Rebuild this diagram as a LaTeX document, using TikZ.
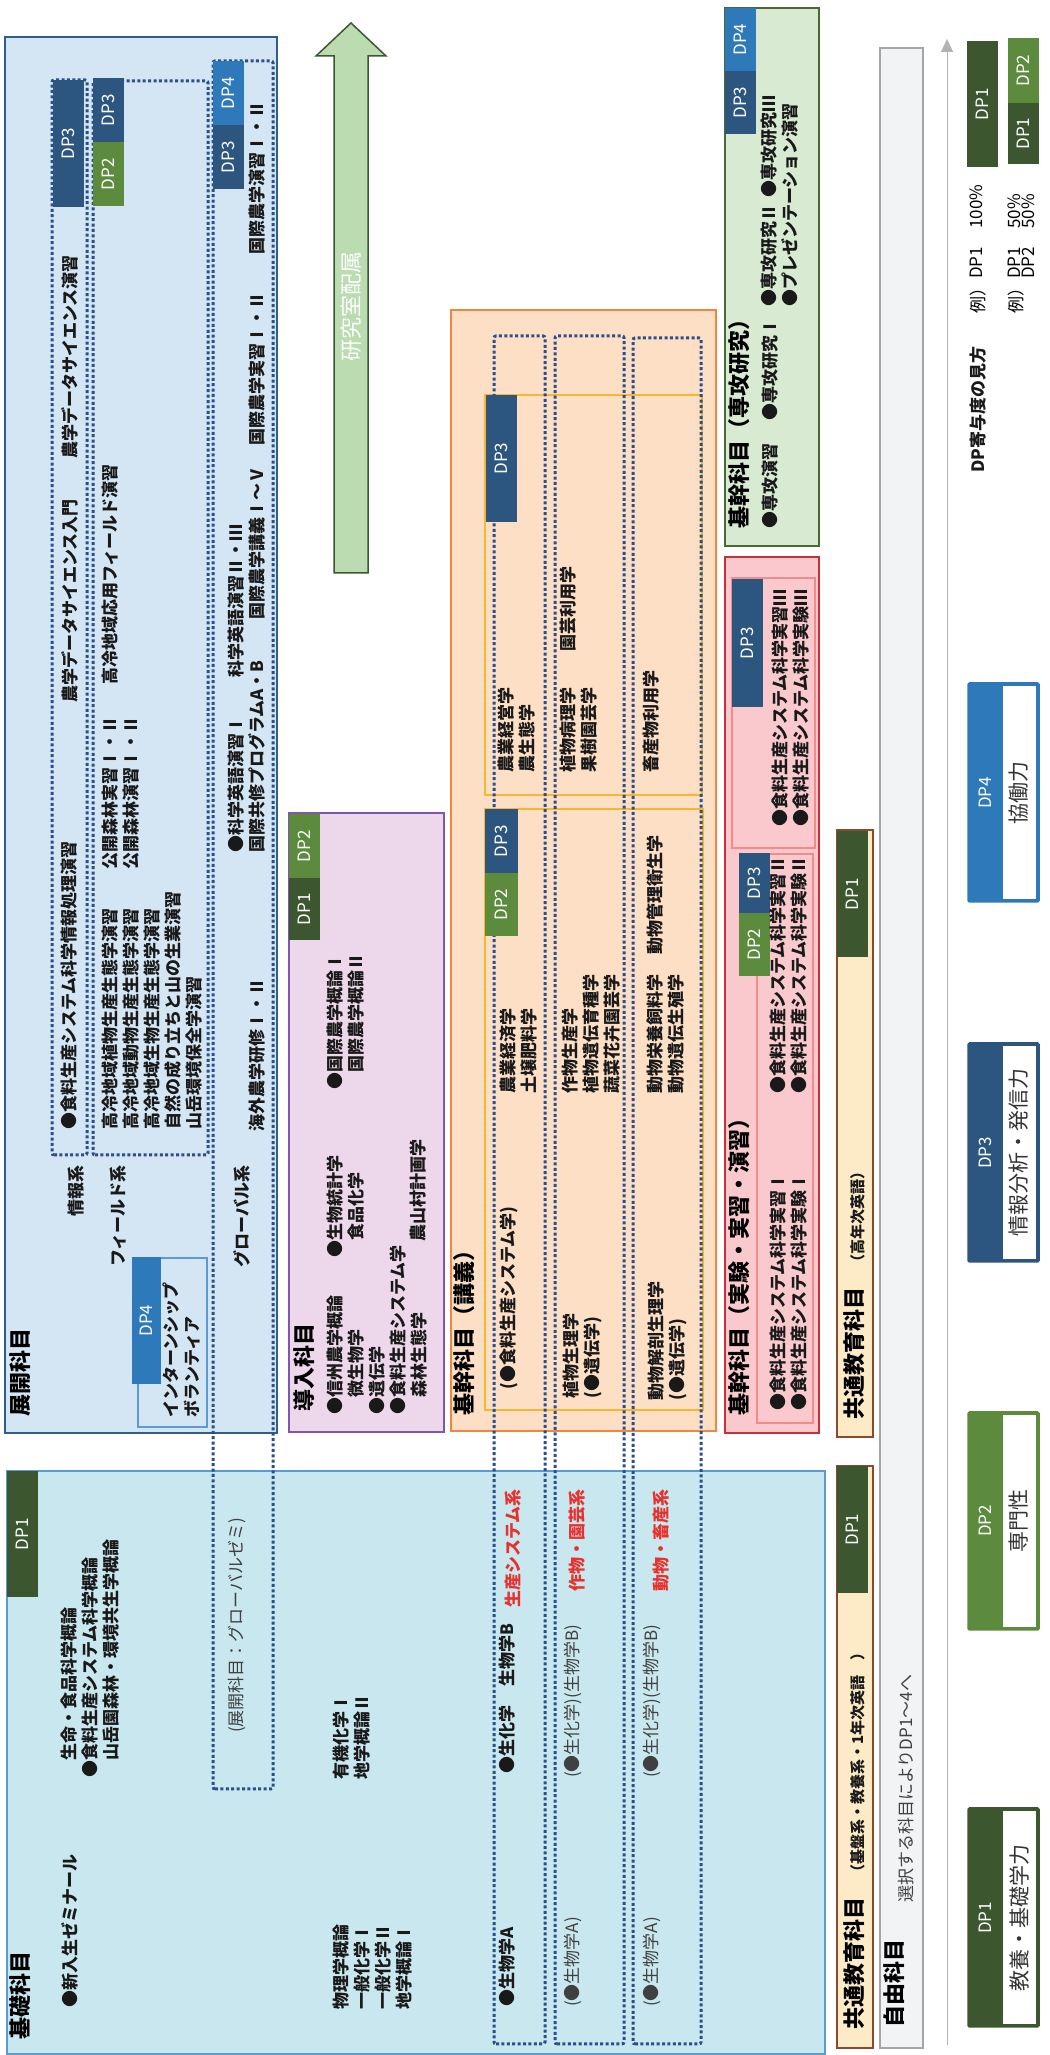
\documentclass[tikz,border=0pt]{standalone}
\usepackage{fontspec}
\setmainfont{Noto Sans CJK JP}
\usetikzlibrary{positioning,arrows.meta}

\definecolor{dpone}{HTML}{3C5730}
\definecolor{dptwo}{HTML}{5C8B3E}
\definecolor{dpthree}{HTML}{2C5580}
\definecolor{dpfour}{HTML}{2E79BA}
\definecolor{dotblue}{HTML}{2B4F8E}
\definecolor{tenkai}{HTML}{D4E6F4}
\definecolor{tenkaiB}{HTML}{2F5D8C}
\definecolor{kiso}{HTML}{C8E7EF}
\definecolor{kisoB}{HTML}{5B9BD5}
\definecolor{dounyu}{HTML}{EDD7EB}
\definecolor{dounyuB}{HTML}{7E57A8}
\definecolor{kogi}{HTML}{FCDFC5}
\definecolor{kogiB}{HTML}{F0863F}
\definecolor{gold}{HTML}{F6B830}
\definecolor{jikken}{HTML}{F9C9CD}
\definecolor{jikkenB}{HTML}{C8303A}
\definecolor{jikkenI}{HTML}{F28B8B}
\definecolor{senko}{HTML}{D9EAD3}
\definecolor{senkoB}{HTML}{4A6A35}
\definecolor{kyotsu}{HTML}{FDEBC8}
\definecolor{kyotsuB}{HTML}{8B4A2B}
\definecolor{jiyu}{HTML}{F2F3F5}
\definecolor{jiyuB}{HTML}{A6A6A6}
\definecolor{arrowG}{HTML}{BBDCB1}
\definecolor{redtxt}{HTML}{E8302C}

\begin{document}
\begin{tikzpicture}[
  x=1pt, y=-1pt,
  area/.style={line width=2pt},
  inbox/.style={line width=1.5pt},
  grp/.style={draw=dotblue, line width=3pt, dash pattern=on 3pt off 2.4pt, rounded corners=2pt},
  tab/.style={inner sep=0pt, text=white, font=\fontsize{17}{17}\selectfont,
              minimum height=31, anchor=north east},
  ttl/.style={anchor=north west, inner sep=0pt, font=\fontsize{22}{26}\selectfont\bfseries},
  crs/.style={anchor=north west, inner sep=0pt, align=left, text=black!90,
              font=\fontsize{17}{21}\selectfont\bfseries},
  note/.style={anchor=north west, inner sep=0pt, align=left, text=black!75,
              font=\fontsize{17}{21}\selectfont},
  sys/.style={anchor=north east, inner sep=0pt, text=redtxt,
              font=\fontsize{17}{21}\selectfont\bfseries},
  sml/.style={anchor=north west, inner sep=0pt, text=black!90,
              font=\fontsize{15}{15}\selectfont\bfseries},
  lgtxt/.style={inner sep=0pt, font=\fontsize{21}{21}\selectfont, text=black!80},
  exm/.style={anchor=north west, inner sep=0pt, align=left,
              font=\fontsize{17}{14}\selectfont},
]
\begin{scope}[rotate=90, transform shape]
\useasboundingbox (0,0) rectangle (2055,1049);

  % areas
  \draw[area, draw=kisoB, line width=1.5pt, fill=kiso] (1,7) rectangle (584,825);
  \draw[area, draw=tenkaiB, fill=tenkai] (622,5) rectangle (2018,277);
  \draw[area, draw=dounyuB, fill=dounyu] (623,289) rectangle (1242,444);
  \draw[area, draw=kogiB, fill=kogi] (624,451) rectangle (1745,716);
  \draw[area, draw=jikkenB, fill=jikken] (622,725) rectangle (1498,819);
  \draw[area, draw=senkoB, fill=senko] (1509,725) rectangle (2047,819);
  \draw[area, draw=kyotsuB, fill=kyotsu] (618,837) rectangle (1225,873);
  \draw[area, draw=kyotsuB, fill=kyotsu] (7,837) rectangle (589,873);
  \draw[area, draw=jiyuB, fill=jiyu] (7,880) rectangle (2007,923);

  % inner frames
  \draw[inbox, draw=kisoB] (628,138) rectangle (797,207);
  \draw[inbox, draw=gold] (1260,485) rectangle (1660,702);
  \draw[inbox, draw=gold] (645,485) rectangle (1246,703);
  \draw[inbox, draw=jikkenI] (1207,732) rectangle (1477,815);
  \draw[inbox, draw=jikkenI] (632,757) rectangle (1201,813);

  % dotted groups
  \draw[grp] (900,52) rectangle (1975,87);
  \draw[grp] (900,93) rectangle (1974,208);
  \draw[grp] (266,213) rectangle (1994,273);
  \draw[grp] (11,494) rectangle (1719,545);
  \draw[grp] (11,555) rectangle (1719,624);
  \draw[grp] (11,633) rectangle (1717,701);

  % lab assignment arrow
  \draw[fill=arrowG, draw=dpone, line width=1.5pt]
    (1482,334) -- (1999,334) -- (1999,316) -- (2032,351) -- (1999,386) -- (1999,368) -- (1482,368) -- cycle;
  \node[inner sep=0pt, text=white, font=\fontsize{22}{22}\selectfont] (lab) at (1748,351) {研究室配属};

  % time line
  \coordinate (tlS) at (10,947);
  \coordinate (tlE) at (2016,947);
  \draw[draw=black!30, line width=1pt, -{Triangle[length=13pt, width=12pt]}] (tlS) -- (tlE);

  % DP tabs
  \node[tab, fill=dpone, minimum width=126] (kisoDP) at (584,7) {DP1};
  \node[tab, fill=dpthree, minimum width=127] (joDP3) at (1975,53) {DP3};
  \node[tab, fill=dpthree, minimum width=64] (fiDP3) at (1977,93) {DP3};
  \node[tab, fill=dptwo, minimum width=64] (fiDP2) at (1913,93) {DP2};
  \node[tab, fill=dpfour, minimum width=64] (glDP4) at (1994,213) {DP4};
  \node[tab, fill=dpthree, minimum width=64] (glDP3) at (1930,213) {DP3};
  \node[tab, fill=dpfour, minimum width=127, minimum height=29] (inDP4) at (798,132) {DP4};
  \node[tab, fill=dptwo, minimum width=64] (doDP2) at (1241,289) {DP2};
  \node[tab, fill=dpone, minimum width=62] (doDP1) at (1177,289) {DP1};
  \node[tab, fill=dpthree, minimum width=127] (koDP3) at (1660,486) {DP3};
  \node[tab, fill=dpthree, minimum width=64, minimum height=33] (kbDP3) at (1246,485) {DP3};
  \node[tab, fill=dptwo, minimum width=63, minimum height=33] (kbDP2) at (1182,485) {DP2};
  \node[tab, fill=dpthree, minimum width=128] (jkDP3) at (1476,732) {DP3};
  \node[tab, fill=dpthree, minimum width=60] (jbDP3) at (1202,739) {DP3};
  \node[tab, fill=dptwo, minimum width=63] (jbDP2) at (1142,739) {DP2};
  \node[tab, fill=dpfour, minimum width=63] (seDP4) at (2047,725) {DP4};
  \node[tab, fill=dpthree, minimum width=63] (seDP3) at (1984,725) {DP3};
  \node[tab, fill=dpone, minimum width=126] (kyDP1) at (1224,837) {DP1};
  \node[tab, fill=dpone, minimum width=127] (kzDP1) at (589,837) {DP1};

  % 1. kiso
  \node[ttl] (kisoT) at (15,9) {基礎科目};
  \node[crs] (kiso1) at (47,61) {●新入生ゼミナール};
  \node[crs] (kiso2) at (277,61) {　生命・食品科学概論\\●食料生産システム科学概論\\　山岳園森林・環境共生学概論};
  \node[note] (kiso3) at (322,228) {(展開科目：グローバルゼミ)};
  \node[crs] (kiso4) at (45,333) {物理学概論\\一般化学Ⅰ\\一般化学Ⅱ\\地学概論Ⅰ};
  \node[crs] (kiso5) at (275,333) {有機化学Ⅰ\\地学概論Ⅱ};
  \node[crs] (bioA) at (48,499) {●生物学A};
  \node[crs] (chem) at (281,499) {●生化学};
  \node[crs] (bioB) at (368,499) {生物学B};
  \node[sys] (sysA) at (566,505) {生産システム系};
  \node[note] (bioA2) at (48,564) {(●生物学A)};
  \node[note] (chem2) at (277,564) {(●生化学)(生物学B)};
  \node[sys] (sysB) at (566,569) {作物・園芸系};
  \node[note] (bioA3) at (48,643) {(●生物学A)};
  \node[note] (chem3) at (277,643) {(●生化学)(生物学B)};
  \node[sys] (sysC) at (566,653) {動物・畜産系};

  % 2. tenkai
  \node[ttl] (tenT) at (638,9) {展開科目};
  \node[crs, anchor=north east] (joL) at (890,68) {情報系};
  \node[crs, anchor=north east] (fiL) at (890,110) {フィールド系};
  \node[crs, anchor=north east] (glL) at (890,233) {グローバル系};
  \node[crs] (jo1) at (925,61) {●食料生産システム科学情報処理演習};
  \node[crs] (jo2) at (1352,61) {農学データサイエンス入門};
  \node[crs] (jo3) at (1596,61) {農学データサイエンス演習};
  \node[crs] (fi1) at (925,102) {高冷地域植物生産生態学演習\\高冷地域動物生産生態学演習\\高冷地域生物生産生態学演習\\自然の成り立ちと山の生業演習\\山岳環境保全学演習};
  \node[crs] (fi2) at (1185,102) {公開森林実習Ⅰ・Ⅱ\\公開森林演習Ⅰ・Ⅱ};
  \node[crs] (fi3) at (1370,102) {高冷地域応用フィールド演習};
  \node[crs] (gl1) at (923,249) {海外農学研修Ⅰ・Ⅱ};
  \node[crs] (gl2) at (1202,228) {●科学英語演習Ⅰ\\国際共修プログラムA・B};
  \node[crs] (gl3) at (1377,228) {科学英語演習Ⅱ・Ⅲ};
  \node[crs] (gl4) at (1435,249) {国際農学講義Ⅰ～Ⅴ};
  \node[crs] (gl5) at (1609,249) {国際農学実習Ⅰ・Ⅱ};
  \node[crs] (gl6) at (1800,249) {国際農学演習Ⅰ・Ⅱ};
  \node[crs] (intern) at (637,163) {インターンシップ\\ボランティア};

  % 3. dounyu
  \node[ttl] (douT) at (643,293) {導入科目};
  \node[crs] (dou1) at (640,327) {●信州農学概論\\　微生物学\\●遺伝学\\●食料生産システム学\\　森林生態学};
  \node[crs] (dou2) at (797,327) {●生物統計学\\　食品化学};
  \node[crs] (dou3) at (813,410) {農山村計画学};
  \node[crs] (dou4) at (965,327) {●国際農学概論Ⅰ\\　国際農学概論Ⅱ};

  % 4. kikan (lectures)
  \node[ttl] (koT) at (639,453) {基幹科目（講義）};
  \node[crs] (ko1) at (665,500) {(●食料生産システム学)};
  \node[crs] (ko2) at (961,500) {農業経済学\\土壌肥料学};
  \node[crs] (ko3) at (1282,498) {農業経営学\\農生態学};
  \node[crs] (ko4) at (656,563) {植物生理学\\(●遺伝学)};
  \node[crs] (ko5) at (961,562) {作物生産学\\植物遺伝育種学\\蔬菜花卉園芸学};
  \node[crs] (ko6) at (1282,560) {植物病理学\\果樹園芸学};
  \node[crs] (ko7) at (1403,560) {園芸利用学};
  \node[crs] (ko8) at (654,648) {動物解剖生理学\\(●遺伝学)};
  \node[crs] (ko9) at (961,647) {動物栄養飼料学\\動物遺伝生殖学};
  \node[crs] (ko10) at (1100,647) {動物管理衛生学};
  \node[crs] (ko11) at (1282,643) {畜産物利用学};

  % 5. kikan (experiments), research
  \node[ttl] (jkT) at (639,728) {基幹科目（実験・実習・演習）};
  \node[crs] (jk1) at (644,770) {●食料生産システム科学実習Ⅰ\\●食料生産システム科学実験Ⅰ};
  \node[crs] (jk2) at (961,770) {●食料生産システム科学実習Ⅱ\\●食料生産システム科学実験Ⅱ};
  \node[crs] (jk3) at (1228,772) {●食料生産システム科学実習Ⅲ\\●食料生産システム科学実験Ⅲ};
  \node[ttl] (seT) at (1526,728) {基幹科目（専攻研究）};
  \node[crs] (se1) at (1526,762) {●専攻演習};
  \node[crs] (se2) at (1634,762) {●専攻研究Ⅰ};
  \node[crs] (se3) at (1748,761) {●専攻研究Ⅱ\\●プレゼンテーション演習};
  \node[crs] (se4) at (1857,761) {●専攻研究Ⅲ};

  % 6. common and free
  \node[ttl] (kyT) at (635,843) {共通教育科目};
  \node[sml] (kyS) at (785,850) {（高年次英語）};
  \node[ttl] (kzT) at (25,843) {共通教育科目};
  \node[sml] (kzS) at (175,850) {（基盤系・教養系・1年次英語　）};
  \node[ttl] (jyT) at (27,883) {自由科目};
  \node[note] (jyS) at (152,898) {選択する科目によりDP1～4へ};

  % 7. legend
  \draw[fill=dpone, draw=dpone, line width=1.5pt, rounded corners=1.5pt] (28,968) rectangle (247,1039);
  \fill[white] (31,1003) rectangle (244,1036);
  \node[tab, anchor=center] (lg1) at (137,985) {DP1};
  \node[lgtxt] (lg1t) at (137,1019) {教養・基礎学力};
  \draw[fill=dptwo, draw=dptwo, line width=1.5pt, rounded corners=1.5pt] (425,968) rectangle (643,1039);
  \fill[white] (428,1003) rectangle (640,1036);
  \node[tab, anchor=center] (lg2) at (534,985) {DP2};
  \node[lgtxt] (lg2t) at (534,1019) {専門性};
  \draw[fill=dpthree, draw=dpthree, line width=1.5pt, rounded corners=1.5pt] (793,968) rectangle (1012,1039);
  \fill[white] (796,1003) rectangle (1009,1036);
  \node[tab, anchor=center] (lg3) at (902,985) {DP3};
  \node[lgtxt] (lg3t) at (902,1019) {情報分析・発信力};
  \draw[fill=dpfour, draw=dpfour, line width=1.5pt, rounded corners=1.5pt] (1153,968) rectangle (1372,1039);
  \fill[white] (1156,1003) rectangle (1369,1036);
  \node[tab, anchor=center] (lg4) at (1262,985) {DP4};
  \node[lgtxt] (lg4t) at (1262,1019) {協働力};

  \node[crs] (howT) at (1582,970) {DP寄与度の見方};
  \node[exm] (ex1a) at (1741,970) {例）};
  \node[exm] (ex1b) at (1776,970) {DP1};
  \node[exm] (ex1c) at (1826,970) {100\%};
  \node[exm] (ex2a) at (1741,1008) {例）};
  \node[exm] (ex2b) at (1776,1008) {DP1\\DP2};
  \node[exm] (ex2c) at (1826,1008) {50\%\\50\%};
  \node[tab, fill=dpone, minimum width=126] (exA) at (2014,967) {DP1};
  \node[tab, fill=dptwo, minimum width=65] (exB2) at (2017,1008) {DP2};
  \node[tab, fill=dpone, minimum width=61] (exB1) at (1952,1008) {DP1};
\end{scope}
\end{tikzpicture}
\end{document}
